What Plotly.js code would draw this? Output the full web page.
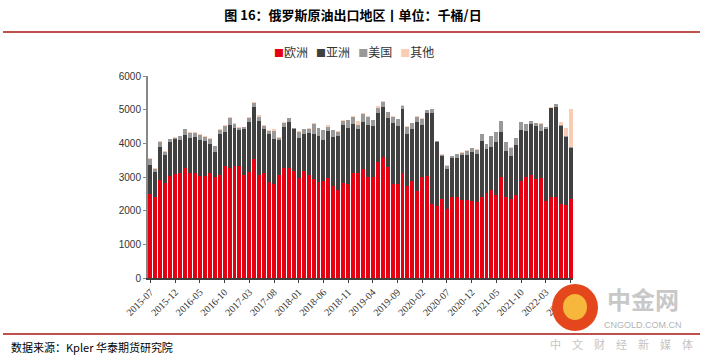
<!DOCTYPE html>
<html><head><meta charset="utf-8">
<script src="https://cdn.plot.ly/plotly-3.0.1.min.js"></script>
<style>html,body{margin:0;padding:0;background:#fff}#chart{width:704px;height:358px}</style>
</head><body><div id="chart"></div>
<script>
// Categories: monthly, 2015-07 .. 2022-08
const months = [];
(function(){ let y = 2015, m = 7; while (!(y === 2022 && m === 9)) { months.push(y + '-' + String(m).padStart(2, '0')); m++; if (m > 12) { m = 1; y++; } } })();

const europe = [2490,2420,2915,2815,3035,3085,3125,3270,3115,3115,3015,3015,3105,2995,3045,3340,3260,3330,3330,3065,3155,3530,3055,3105,2845,2800,3045,3270,3270,3190,2985,3175,3055,2955,2855,2875,2965,
2720,2600,2815,2780,3115,3115,3230,2995,3005,3450,3590,3310,2780,2800,3115,2720,2895,2590,3005,3015,2195,2125,2335,2055,2410,2400,2305,2305,2275,2245,2410,2520,2600,2480,2995,2400,2340,2460,2875,2995,3065,2955,2985,2285,2420,2400,2185,2165,2355];
const asia = [870,730,980,845,1010,1055,975,990,1055,1075,1085,1055,885,750,1245,1010,1290,1130,1070,1375,1485,1550,1610,1335,1445,1320,1045,1230,1375,1230,1165,1115,1265,1315,1375,1225,1415,
1460,1620,1740,1680,1460,1315,1405,1560,1510,1465,1500,1445,1815,1725,1895,1570,1535,2055,1550,1900,2720,1920,1275,1195,1140,1150,1355,1335,1470,1440,1655,1305,1305,1555,1355,1385,1270,1505,1525,1375,1520,1570,1395,2155,2620,2690,2320,2025,1520];
const usa = [170,100,135,90,75,30,110,160,140,110,140,110,140,170,120,170,195,120,60,40,125,110,130,80,90,240,60,110,100,30,200,130,110,300,220,300,120,
220,130,120,235,220,125,250,230,180,145,130,165,200,190,110,190,165,140,180,65,95,10,55,70,60,130,55,145,110,120,215,160,305,305,305,250,265,185,235,200,70,70,205,40,20,70,30,30,10];
const other = [30,30,40,20,20,20,20,10,30,40,40,40,20,20,20,20,30,10,30,10,30,30,45,30,30,70,40,10,20,10,10,10,30,20,10,10,50,
10,10,20,10,20,110,20,40,10,40,30,10,30,10,30,40,10,40,10,20,10,10,30,30,20,10,20,20,20,20,10,10,0,0,0,10,10,10,10,10,20,20,10,20,10,10,110,250,1135];

const seriesNames = ['欧洲', '亚洲', '美国', '其他'];
const seriesColors = ['#E60012', '#404040', '#999999', '#F9CDB4'];
const seriesData = [europe, asia, usa, other];
const tickLabels = months.filter((_, i) => i % 5 === 0);

const traces = seriesData.map((d, i) => ({
  type: 'bar', x: months, y: d, name: seriesNames[i],
  marker: { color: seriesColors[i], line: { width: 0 } }
}));

// pixel -> paper helpers for decorations
const L = 148, R = 131, T = 76, B = 80, W = 704, H = 358;
const pw = W - L - R, ph = H - T - B;
const px = v => (v - L) / pw;
const py = v => (H - B - v) / ph;

const legendText = seriesNames.map((n, i) =>
  '<span style="color:' + seriesColors[i] + ';font-size:10px">■</span>' + n).join('&nbsp;&nbsp;&nbsp;');

const layout = {
  width: W, height: H,
  margin: { l: L, r: R, t: T, b: B, pad: 0 },
  paper_bgcolor: '#fff', plot_bgcolor: '#fff',
  barmode: 'stack', bargap: 0.2,
  showlegend: false,
  title: {
    text: '<b>图 16：俄罗斯原油出口地区丨单位：千桶/日</b>',
    x: 353 / W, xanchor: 'center', xref: 'container',
    y: 1 - 15 / H, yanchor: 'middle', yref: 'container',
    font: { family: 'Noto Sans CJK SC', size: 13, color: '#000' }
  },
  xaxis: {
    type: 'category', range: [-0.5, months.length - 0.5],
    tickmode: 'array', tickvals: tickLabels, ticktext: tickLabels,
    tickangle: -45, ticks: 'outside', ticklen: 3, tickcolor: '#404040',
    showline: true, linecolor: '#404040', linewidth: 1.5,
    showgrid: false, zeroline: false,
    tickfont: { family: 'Liberation Serif', size: 10, color: '#333' }
  },
  yaxis: {
    range: [0, 6000], dtick: 1000, tick0: 0,
    ticks: 'outside', ticklen: 3, tickcolor: '#888',
    showline: true, linecolor: '#888', linewidth: 2,
    showgrid: false, zeroline: false,
    tickfont: { family: 'Liberation Sans', size: 10, color: '#333' }
  },
  shapes: [
    { type: 'line', xref: 'paper', yref: 'paper', x0: px(3), x1: px(700), y0: py(32), y1: py(32), line: { color: '#C0504D', width: 2 } },
    { type: 'line', xref: 'paper', yref: 'paper', x0: px(3), x1: px(700), y0: py(334), y1: py(334), line: { color: '#C0504D', width: 2 } },
    { type: 'circle', xref: 'paper', yref: 'paper', x0: px(552), x1: px(598), y0: py(331), y1: py(284), fillcolor: '#E4471C', line: { width: 0 }, layer: 'above' },
    { type: 'circle', xref: 'paper', yref: 'paper', x0: px(563), x1: px(587), y0: py(320), y1: py(294), fillcolor: '#F6B73C', line: { width: 0 }, layer: 'above' }
  ],
  annotations: [
    { xref: 'paper', yref: 'paper', x: px(354), y: py(52), xanchor: 'center', yanchor: 'middle', showarrow: false,
      text: legendText, font: { family: 'Noto Sans CJK SC', size: 12, color: '#333' } },
    { xref: 'paper', yref: 'paper', x: px(9), y: py(347), xanchor: 'left', yanchor: 'middle', showarrow: false,
      text: '数据来源：Kpler 华泰期货研究院', font: { family: 'Noto Sans CJK SC', size: 11, color: '#000' } },
    { xref: 'paper', yref: 'paper', x: px(643), y: py(298), xanchor: 'center', yanchor: 'middle', showarrow: false,
      text: '<b>中金网</b>', font: { family: 'Noto Sans CJK SC', size: 24, color: '#C8C8C8' } },
    { xref: 'paper', yref: 'paper', x: px(643), y: py(325), xanchor: 'center', yanchor: 'middle', showarrow: false,
      text: 'CNGOLD.COM.CN', font: { family: 'Liberation Sans', size: 9, color: '#B4B4B4' } },
    { xref: 'paper', yref: 'paper', x: px(621), y: py(344), xanchor: 'center', yanchor: 'middle', showarrow: false,
      text: '中　文　财　经　新　媒　体', font: { family: 'Noto Sans CJK SC', size: 11, color: '#C4C4C4' } }
  ]
};

Plotly.newPlot('chart', traces, layout, { displayModeBar: false, staticPlot: true });
</script>
</body></html>
